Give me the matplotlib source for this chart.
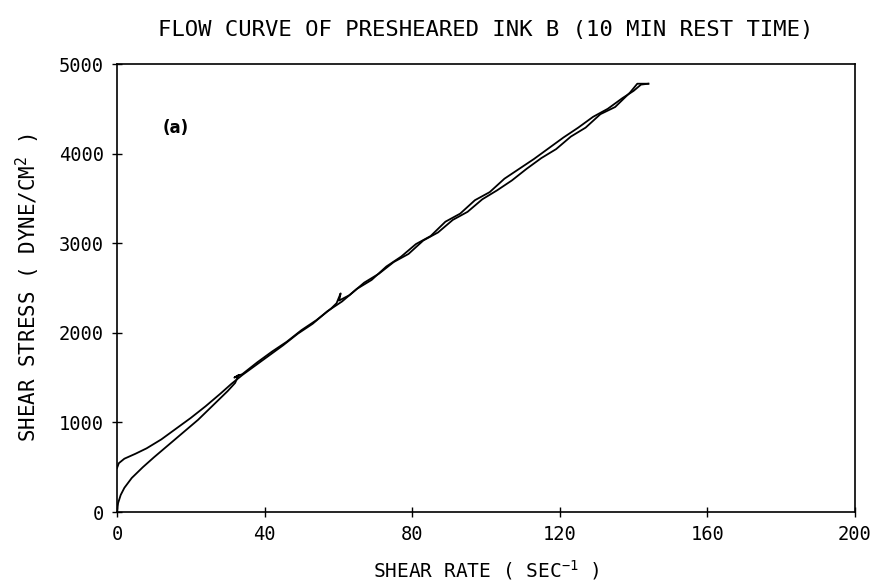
import matplotlib
matplotlib.use("Agg")
import matplotlib.pyplot as plt
import numpy as np

plt.rcParams['font.family'] = ['DejaVu Sans Mono']
plt.rcParams['mathtext.default'] = 'regular'

# up curve (from rest up to max shear rate)
up_rate = [0, 0.3, 1, 2, 4, 7, 10, 14, 18, 22, 26, 30, 32, 33, 31.8, 34, 38, 42, 46, 50,
           54, 58, 59.5, 60.6, 60.2, 63, 67, 71, 75, 79, 83, 87, 91, 95, 99, 103, 107,
           111, 115, 119, 123, 127, 131, 135, 139, 141, 144]
up_stress = [0, 100, 190, 270, 380, 500, 610, 750, 890, 1030, 1190, 1350, 1440, 1530, 1500,
             1540, 1670, 1790, 1900, 2030, 2140, 2270, 2330, 2440, 2360, 2420, 2560, 2660,
             2790, 2880, 3030, 3120, 3260, 3350, 3490, 3590, 3700, 3830, 3950, 4050, 4190,
             4290, 4440, 4520, 4680, 4780, 4780]

# down curve (back to zero shear rate)
down_rate = [144, 142, 140, 137, 133, 129, 125, 121, 117, 113, 109, 105, 101, 97, 93, 89,
             85, 81, 77, 73, 69, 65, 61, 57, 53, 49, 45, 41, 37, 34, 31, 28, 24, 20, 16,
             12, 8, 5, 2, 0.5, 0]
down_stress = [4780, 4770, 4700, 4620, 4500, 4410, 4290, 4180, 4060, 3940, 3830, 3720, 3570,
               3480, 3330, 3240, 3080, 2990, 2850, 2740, 2590, 2490, 2350, 2240, 2100, 1990,
               1860, 1740, 1620, 1530, 1430, 1320, 1180, 1050, 930, 810, 710, 650, 595, 545, 490]

xticks = [0, 40, 80, 120, 160, 200]
yticks = [0, 1000, 2000, 3000, 4000, 5000]

fig = plt.figure(figsize=(8.74, 5.84), dpi=100)
ax = fig.add_axes([117/874, 72/584, (855-117)/874, (512-64)/584])

ax.plot(up_rate, up_stress, color='black', lw=1.3)
ax.plot(down_rate, down_stress, color='black', lw=1.3)

ax.set_xlim(0, 200)
ax.set_ylim(0, 5000)
ax.set_xticks(xticks)
ax.set_yticks(yticks)
ax.tick_params(direction='inout', length=7, width=1.0, labelsize=13.5, pad=6)
for s in ax.spines.values():
    s.set_linewidth(1.2)

ax.set_xlabel('SHEAR RATE ( SEC$^{-1}$ )', fontsize=14, labelpad=10)
ax.set_ylabel('SHEAR STRESS ( DYNE/CM$^{2}$ )', fontsize=15, labelpad=12)
ax.set_title('FLOW CURVE OF PRESHEARED INK B (10 MIN REST TIME)', fontsize=16, pad=20)

ax.text(12.4, 4290, '(a)', family='DejaVu Sans', fontweight='bold', fontsize=12,
        va='center', ha='left')

plt.savefig('out.png', dpi=100)
